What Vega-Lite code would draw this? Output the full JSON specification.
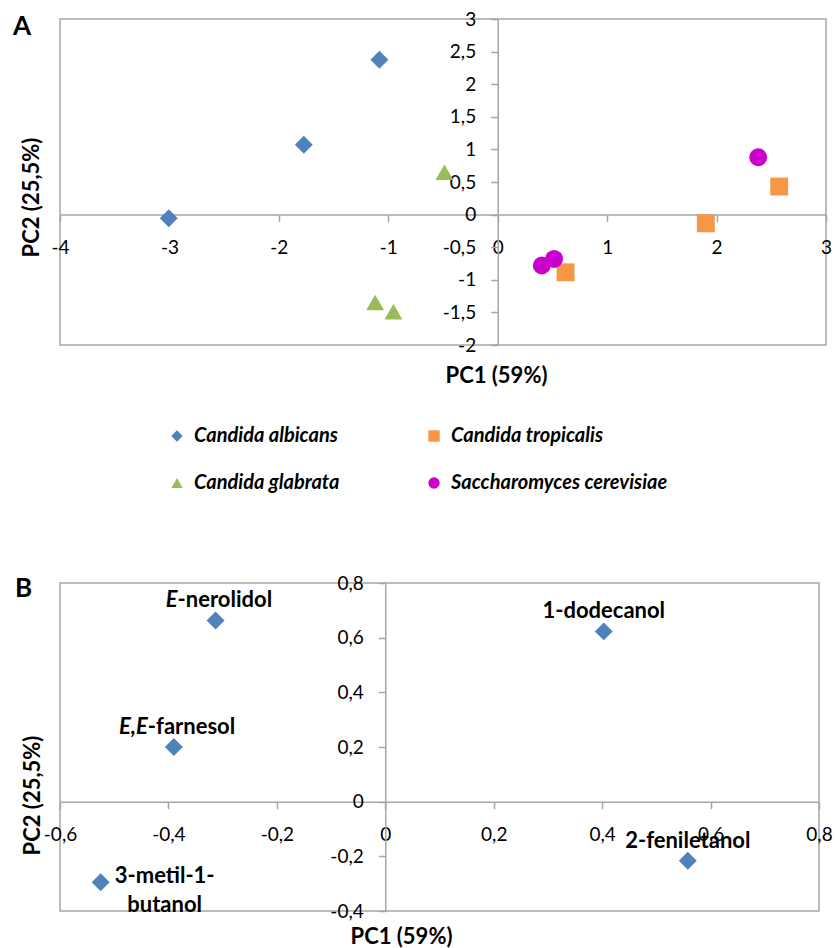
{
  "$schema": "https://vega.github.io/schema/vega-lite/v6.json",
  "background": "white",
  "padding": {"left": 12, "top": 9, "right": 5, "bottom": 5},
  "bounds": "flush",
  "spacing": 238,
  "config": {
    "font": "Lato",
    "view": {"stroke": "#a6a6a6", "strokeWidth": 1.5},
    "axis": {
      "grid": false,
      "domainColor": "#a6a6a6",
      "domainWidth": 1.5,
      "tickColor": "#a6a6a6",
      "tickWidth": 1.5,
      "tickSize": 7,
      "labelFont": "Lato",
      "labelFontSize": 19,
      "labelColor": "#000000",
      "labelFlush": false,
      "labelOverlap": false,
      "labelBound": false,
      "titleFont": "Lato",
      "titleFontSize": 22,
      "titleFontWeight": "bold",
      "titleColor": "#000000",
      "labelExpr": "replace(toString(datum.value), '.', ',')"
    },
    "axisX": {"labelPadding": 17},
    "axisY": {"labelPadding": 15},
    "title": {"font": "Lato", "fontSize": 26, "fontWeight": "bold", "color": "#000000", "anchor": "start", "frame": "group", "baseline": "middle"}
  },
  "vconcat": [
    {
      "name": "pa",
      "width": 766,
      "height": 326,
      "title": {"text": "A", "dx": -47, "dy": 34},
      "data": {
        "values": [
          {"species": "Candida albicans", "pc1": -3.006, "pc2": -0.057},
          {"species": "Candida albicans", "pc1": -1.772, "pc2": 1.072},
          {"species": "Candida albicans", "pc1": -1.081, "pc2": 2.376},
          {"species": "Candida glabrata", "pc1": -1.12, "pc2": -1.35},
          {"species": "Candida glabrata", "pc1": -0.953, "pc2": -1.49},
          {"species": "Candida glabrata", "pc1": -0.487, "pc2": 0.65},
          {"species": "Candida tropicalis", "pc1": 2.572, "pc2": 0.43},
          {"species": "Candida tropicalis", "pc1": 1.902, "pc2": -0.134},
          {"species": "Candida tropicalis", "pc1": 0.62, "pc2": -0.885},
          {"species": "Saccharomyces cerevisiae", "pc1": 2.38, "pc2": 0.879},
          {"species": "Saccharomyces cerevisiae", "pc1": 0.515, "pc2": -0.68},
          {"species": "Saccharomyces cerevisiae", "pc1": 0.403, "pc2": -0.78}
        ]
      },
      "mark": {"type": "point", "filled": true, "size": 320, "opacity": 1},
      "encoding": {
        "x": {
          "field": "pc1", "type": "quantitative",
          "scale": {"domain": [-4, 3], "nice": false, "zero": false},
          "axis": {
            "values": [-4, -3, -2, -1, 0, 1, 2, 3],
            "offset": {"expr": "scale('pa_y', 0) - scale('pa_y', -2)"},
            "title": "PC1 (59%)",
            "titleX": 436, "titleY": 151, "titleAlign": "center", "titleBaseline": "top"
          }
        },
        "y": {
          "field": "pc2", "type": "quantitative",
          "scale": {"domain": [-2, 3], "nice": false, "zero": false},
          "axis": {
            "values": [-2, -1.5, -1, -0.5, 0, 0.5, 1, 1.5, 2, 2.5, 3],
            "offset": {"expr": "scale('pa_x', -4) - scale('pa_x', 0)"},
            "title": "PC2 (25,5%)",
            "titleX": -454, "titleY": 178, "titleAlign": "center", "titleBaseline": "bottom", "titleAngle": 270
          }
        },
        "color": {
          "field": "species", "type": "nominal",
          "scale": {
            "domain": ["Candida albicans", "Candida tropicalis", "Candida glabrata", "Saccharomyces cerevisiae"],
            "range": ["#4f81bd", "#f79646", "#9bbb59", "#cc00cc"]
          },
          "legend": {
            "title": null, "orient": "none", "legendX": 107, "legendY": 407,
            "direction": "horizontal",
            "values": ["Candida albicans", "Candida tropicalis", "Candida glabrata", "Saccharomyces cerevisiae"],
            "columns": 2, "columnPadding": 84, "rowPadding": 27,
            "symbolSize": 130, "symbolStrokeWidth": 0, "labelOffset": 7,
            "labelFont": "Lato", "labelFontSize": 20, "labelFontStyle": "italic", "labelFontWeight": "bold", "labelColor": "#000000", "labelLimit": 400
          }
        },
        "shape": {
          "field": "species", "type": "nominal",
          "scale": {
            "domain": ["Candida albicans", "Candida tropicalis", "Candida glabrata", "Saccharomyces cerevisiae"],
            "range": ["diamond", "square", "triangle-up", "circle"]
          },
          "legend": {
            "title": null, "orient": "none", "legendX": 107, "legendY": 407,
            "direction": "horizontal",
            "values": ["Candida albicans", "Candida tropicalis", "Candida glabrata", "Saccharomyces cerevisiae"],
            "columns": 2, "columnPadding": 84, "rowPadding": 27,
            "symbolSize": 130, "symbolStrokeWidth": 0, "labelOffset": 7,
            "labelFont": "Lato", "labelFontSize": 20, "labelFontStyle": "italic", "labelFontWeight": "bold", "labelColor": "#000000", "labelLimit": 400
          }
        }
      }
    },
    {
      "name": "pb",
      "width": 759,
      "height": 328,
      "title": {"text": "B", "dx": -45, "dy": 32},
      "data": {
        "values": [
          {"compound": "E-nerolidol", "stereo": "E", "base": "-nerolidol", "pc1": -0.313, "pc2": 0.663},
          {"compound": "E,E-farnesol", "stereo": "E,E", "base": "-farnesol", "pc1": -0.39, "pc2": 0.2},
          {"compound": "3-metil-1-butanol", "stereo": "", "base": "3-metil-1-\nbutanol", "pc1": -0.525, "pc2": -0.295},
          {"compound": "1-dodecanol", "stereo": "", "base": "1-dodecanol", "pc1": 0.403, "pc2": 0.623},
          {"compound": "2-feniletanol", "stereo": "", "base": "2-feniletanol", "pc1": 0.558, "pc2": -0.216}
        ]
      },
      "encoding": {
        "x": {
          "field": "pc1", "type": "quantitative",
          "scale": {"domain": [-0.6, 0.8], "nice": false, "zero": false},
          "axis": {
            "values": [-0.6, -0.4, -0.2, 0, 0.2, 0.4, 0.6, 0.8],
            "offset": {"expr": "scale('pb_y', 0) - scale('pb_y', -0.4)"},
            "title": "PC1 (59%)",
            "titleX": 341, "titleY": 125, "titleAlign": "center", "titleBaseline": "top"
          }
        },
        "y": {
          "field": "pc2", "type": "quantitative",
          "scale": {"domain": [-0.4, 0.8], "nice": false, "zero": false},
          "axis": {
            "values": [-0.4, -0.2, 0, 0.2, 0.4, 0.6, 0.8],
            "offset": {"expr": "scale('pb_x', -0.6) - scale('pb_x', 0)"},
            "title": "PC2 (25,5%)",
            "titleX": -341, "titleY": 212, "titleAlign": "center", "titleBaseline": "bottom", "titleAngle": 270
          }
        }
      },
      "layer": [
        {
          "mark": {"type": "point", "filled": true, "size": 320, "opacity": 1, "shape": "diamond", "color": "#4f81bd"}
        },
        {
          "transform": [{"filter": "datum.stereo === '' && datum.compound !== '3-metil-1-butanol'"}],
          "mark": {"type": "text", "dy": -20, "align": "center", "baseline": "middle", "fontSize": 22, "fontWeight": "bold", "font": "Lato", "color": "#000000"},
          "encoding": {"text": {"field": "base"}}
        },
        {
          "transform": [{"filter": "datum.compound === '3-metil-1-butanol'"}],
          "mark": {"type": "text", "dx": 64, "dy": -6, "align": "center", "baseline": "middle", "lineBreak": "\n", "lineHeight": 29, "fontSize": 22, "fontWeight": "bold", "font": "Lato", "color": "#000000"},
          "encoding": {"text": {"field": "base"}}
        },
        {
          "transform": [{"filter": "datum.compound === 'E-nerolidol'"}],
          "mark": {"type": "text", "dx": -38, "dy": -20, "align": "right", "baseline": "middle", "fontSize": 22, "fontWeight": "bold", "fontStyle": "italic", "font": "Lato", "color": "#000000"},
          "encoding": {"text": {"field": "stereo"}}
        },
        {
          "transform": [{"filter": "datum.compound === 'E-nerolidol'"}],
          "mark": {"type": "text", "dx": -38, "dy": -20, "align": "left", "baseline": "middle", "fontSize": 22, "fontWeight": "bold", "font": "Lato", "color": "#000000"},
          "encoding": {"text": {"field": "base"}}
        },
        {
          "transform": [{"filter": "datum.compound === 'E,E-farnesol'"}],
          "mark": {"type": "text", "dx": -26, "dy": -20, "align": "right", "baseline": "middle", "fontSize": 22, "fontWeight": "bold", "fontStyle": "italic", "font": "Lato", "color": "#000000"},
          "encoding": {"text": {"field": "stereo"}}
        },
        {
          "transform": [{"filter": "datum.compound === 'E,E-farnesol'"}],
          "mark": {"type": "text", "dx": -26, "dy": -20, "align": "left", "baseline": "middle", "fontSize": 22, "fontWeight": "bold", "font": "Lato", "color": "#000000"},
          "encoding": {"text": {"field": "base"}}
        }
      ]
    }
  ]
}
